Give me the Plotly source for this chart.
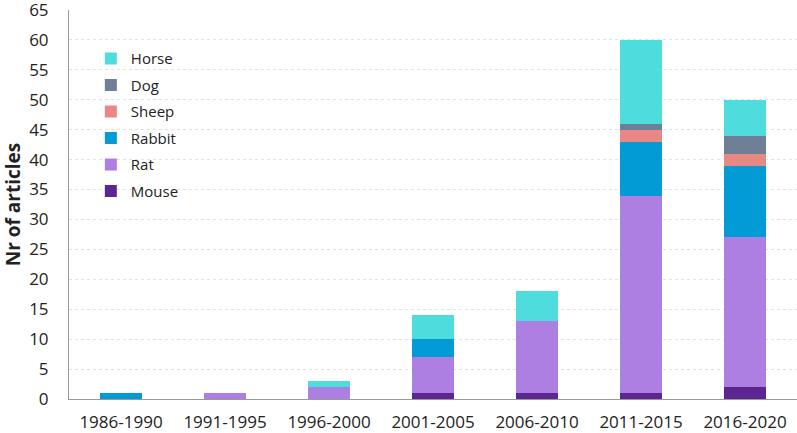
import plotly.graph_objects as go

periods = ["1986-1990", "1991-1995", "1996-2000", "2001-2005", "2006-2010", "2011-2015", "2016-2020"]
mouse = [0, 0, 0, 1, 1, 1, 2]
rat = [0, 1, 2, 6, 12, 33, 25]
rabbit = [1, 0, 0, 3, 0, 9, 12]
sheep = [0, 0, 0, 0, 0, 2, 2]
dog = [0, 0, 0, 0, 0, 1, 3]
horse = [0, 0, 1, 4, 5, 14, 6]
y_ticks = [0, 5, 10, 15, 20, 25, 30, 35, 40, 45, 50, 55, 60, 65]

series = [
    ("Mouse", mouse, "#5d2591"),
    ("Rat", rat, "#ad7fe3"),
    ("Rabbit", rabbit, "#039bd6"),
    ("Sheep", sheep, "#e98785"),
    ("Dog", dog, "#6f7f98"),
    ("Horse", horse, "#4fdcdc"),
]

fig = go.Figure()
n = len(series)
for i, (name, vals, color) in enumerate(series):
    fig.add_trace(go.Bar(
        x=periods, y=vals, name=name, legendgroup=name, legendrank=n - i,
        marker=dict(color=color, line=dict(width=0)),
        width=0.4,
    ))

font = "Open Sans, Lato, sans-serif"
fig.update_layout(
    barmode="stack",
    width=797, height=433,
    margin=dict(l=69, r=0, t=10, b=34),
    paper_bgcolor="white", plot_bgcolor="white",
    font=dict(family=font, size=16, color="#222"),
    showlegend=True,
    legend=dict(
        x=0.03, y=0.917, xanchor="left", yanchor="top",
        traceorder="grouped", bgcolor="rgba(0,0,0,0)",
        font=dict(size=15, color="#222"),
        itemwidth=30, tracegroupgap=4,
    ),
    xaxis=dict(
        showline=True, linecolor="#999", linewidth=1, automargin=False,
        ticks="", tickfont=dict(size=17), showgrid=False, ticklabelstandoff=8,
    ),
    yaxis=dict(
        range=[0, 65.001], tickvals=y_ticks, showline=True, linecolor="#999", linewidth=1,
        showgrid=True, gridcolor="#e2e2e2", griddash="dot", automargin=False,
        ticks="", tickfont=dict(size=17), zeroline=False, ticklabelstandoff=16,
        ticklabeloverflow="allow",
        title=dict(text="<b>Nr of articles</b>", font=dict(size=19), standoff=9),
    ),
)

fig.write_html("out.html", config={"displayModeBar": False},
               post_script="document.body.style.margin='0';")
